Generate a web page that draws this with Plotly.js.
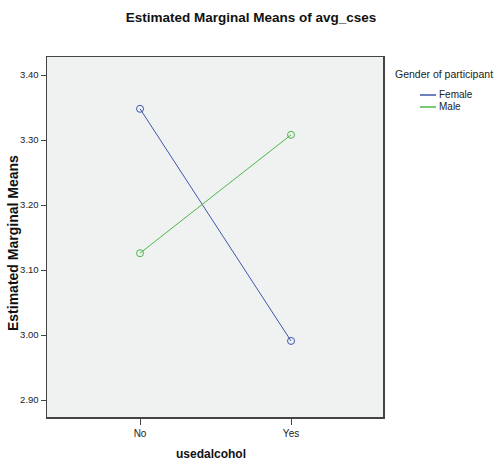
<!DOCTYPE html>
<html>
<head>
<meta charset="utf-8">
<script src="https://cdn.plot.ly/plotly-3.0.1.min.js"></script>
<style>html,body{margin:0;padding:0;background:#fff;}#chart{width:496px;height:462px;}</style>
</head>
<body>
<div id="chart"></div>
<script>
const categories = ["No", "Yes"];
const seriesNames = ["Female", "Male"];
const femaleValues = [3.348, 2.991];
const maleValues = [3.126, 3.308];
const yTickValues = [2.90, 3.00, 3.10, 3.20, 3.30, 3.40];
const yTickLabels = ["2.90", "3.00", "3.10", "3.20", "3.30", "3.40"];
const legendTitle = "Gender of participant";
const chartTitle = "Estimated Marginal Means of avg_cses";
const xTitle = "usedalcohol";
const yTitle = "Estimated Marginal Means";

const colors = ["#3E58AC", "#4DB748"];
const allValues = [femaleValues, maleValues];

const traces = allValues.map((vals, i) => ({
  type: "scatter",
  mode: "lines+markers",
  x: [0, 1],
  y: vals,
  name: seriesNames[i],
  line: {color: colors[i], width: 1},
  marker: {symbol: "circle-open", size: 7, color: colors[i], line: {width: 1, color: colors[i]}},
  showlegend: false,
  hoverinfo: "skip"
}));

const arial = "Liberation Sans, Arial, sans-serif";
const W = 336, H = 360, L = 47, T = 57;
const px = x => (x - L) / W;
const py = y => 1 - (y - T) / H;

const annotations = [
  {xref: "paper", yref: "paper", x: px(393), y: py(74), xanchor: "left", yanchor: "middle",
   showarrow: false, text: legendTitle, font: {family: arial, size: 10.5, color: "#222"}},
  {xref: "paper", yref: "paper", x: px(13), y: py(243), xanchor: "center", yanchor: "middle",
   textangle: -90, showarrow: false, text: "<b>" + yTitle + "</b>",
   font: {family: arial, size: 14, color: "#111"}},
  {xref: "paper", yref: "paper", x: px(211), y: py(454), xanchor: "center", yanchor: "middle",
   showarrow: false, text: "<b>" + xTitle + "</b>", font: {family: arial, size: 12, color: "#111"}}
];
const shapes = [];
seriesNames.forEach((n, i) => {
  const yp = py(95 + i * 12);
  shapes.push({type: "line", xref: "paper", yref: "paper",
    x0: px(420), x1: px(436), y0: yp, y1: yp,
    line: {color: colors[i], width: 1.5}});
  annotations.push({xref: "paper", yref: "paper", x: px(437), y: yp,
    xanchor: "left", yanchor: "middle", showarrow: false,
    text: n, font: {family: arial, size: 10, color: "#222"}});
});

const layout = {
  width: 496, height: 462,
  margin: {l: 47, r: 113, t: 57, b: 45, pad: 0},
  paper_bgcolor: "#ffffff",
  plot_bgcolor: "#F0F1F1",
  title: {text: "<b>" + chartTitle + "</b>", x: 251/496, xanchor: "center",
    y: 1 - 17/462, yanchor: "middle",
    font: {family: arial, size: 13.5, color: "#111"}},
  xaxis: {
    range: [-0.616, 1.609], tickvals: [0, 1], ticktext: categories,
    showgrid: false, zeroline: false, showline: true, mirror: true,
    linecolor: "#444", linewidth: 1.5,
    ticks: "outside", ticklen: 6, tickcolor: "#444", tickwidth: 1,
    tickfont: {family: arial, size: 10, color: "#222"}
  },
  yaxis: {
    range: [2.874, 3.4277], tickvals: yTickValues, ticktext: yTickLabels,
    showgrid: false, zeroline: false, showline: true, mirror: true,
    linecolor: "#444", linewidth: 1.5,
    ticks: "outside", ticklen: 5, tickcolor: "#444", tickwidth: 1,
    tickfont: {family: arial, size: 9.5, color: "#222"}
  },
  annotations: annotations,
  shapes: shapes,
  showlegend: false
};

Plotly.newPlot("chart", traces, layout, {displayModeBar: false, staticPlot: true});
</script>
</body>
</html>
